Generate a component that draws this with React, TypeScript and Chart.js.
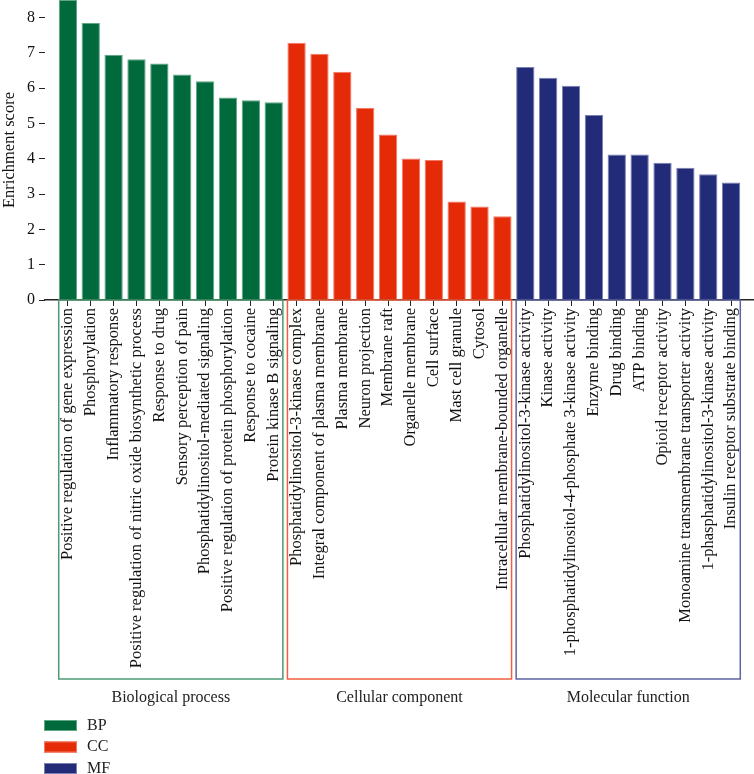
import React, { useEffect, useRef } from "react";
import { Chart, registerables } from "chart.js";

Chart.register(...registerables);

const bpLabels = [
  "Positive regulation of gene expression",
  "Phosphorylation",
  "Inflammatory response",
  "Positive regulation of nitric oxide biosynthetic process",
  "Response to drug",
  "Sensory perception of pain",
  "Phosphatidylinositol-mediated signaling",
  "Positive regulation of protein phosphorylation",
  "Response to cocaine",
  "Protein kinase B signaling",
];
const bpValues = [8.5, 7.85, 6.95, 6.82, 6.7, 6.39, 6.2, 5.74, 5.66, 5.6];

const ccLabels = [
  "Phosphatidylinositol-3-kinase complex",
  "Integral component of plasma membrane",
  "Plasma membrane",
  "Neuron projection",
  "Membrane raft",
  "Organelle membrane",
  "Cell surface",
  "Mast cell granule",
  "Cytosol",
  "Intracellular membrane-bounded organelle",
];
const ccValues = [7.29, 6.98, 6.47, 5.44, 4.69, 4.01, 3.97, 2.79, 2.65, 2.37];

const mfLabels = [
  "Phosphatidylinositol-3-kinase activity",
  "Kinase activity",
  "1-phosphatidylinositol-4-phosphate 3-kinase activity",
  "Enzyme binding",
  "Drug binding",
  "ATP binding",
  "Opioid receptor activity",
  "Monoamine transmembrane transporter activity",
  "1-phasphatidylinositol-3-kinase activity",
  "Insulin receptor substrate binding",
];
const mfValues = [6.6, 6.3, 6.07, 5.24, 4.12, 4.12, 3.89, 3.75, 3.56, 3.33];

const groupNames = ["Biological process", "Cellular component", "Molecular function"];
const legendNames = ["BP", "CC", "MF"];

const FONT = '"Liberation Serif", "DejaVu Serif", serif';
const fills = ["#006a3d", "#e52a08", "#212b78"];
const strokes = ["#5fa883", "#f27a63", "#7b80b2"];
const boxColors = ["#4c9a74", "#f0603f", "#5d64a3"];

export default function App() {
  const ref = useRef<HTMLCanvasElement | null>(null);

  useEffect(() => {
    if (!ref.current) return;
    const groups = [bpValues, ccValues, mfValues];
    const groupLabels = [bpLabels, ccLabels, mfLabels];
    const labels: string[] = [""];
    const data: (number | null)[] = [null];
    const bg: string[] = ["transparent"];
    const bd: string[] = ["transparent"];
    groups.forEach((vals, g) => {
      vals.forEach((v, i) => {
        labels.push(groupLabels[g][i]);
        data.push(v);
        bg.push(fills[g]);
        bd.push(strokes[g]);
      });
    });
    labels.push("");
    data.push(null);
    bg.push("transparent");
    bd.push("transparent");

    const decor = {
      id: "decor",
      afterDraw(chart: any) {
        const ctx = chart.ctx;
        const meta = chart.getDatasetMeta(0);
        const area = chart.chartArea;
        ctx.save();
        let offset = 1;
        groups.forEach((vals, g) => {
          const first: any = meta.data[offset];
          const last: any = meta.data[offset + vals.length - 1];
          const x0 = first.x - first.width / 2;
          const x1 = last.x + last.width / 2;
          const y0 = area.bottom;
          const y1 = 679;
          ctx.strokeStyle = boxColors[g];
          ctx.lineWidth = 1.5;
          ctx.strokeRect(x0, y0, x1 - x0, y1 - y0);
          ctx.fillStyle = "#222";
          ctx.font = `16px ${FONT}`;
          ctx.textAlign = "center";
          ctx.textBaseline = "middle";
          ctx.fillText(groupNames[g], (x0 + x1) / 2, 698);
          offset += vals.length;
        });
        legendNames.forEach((name, i) => {
          const y = 720 + i * 21.5;
          ctx.fillStyle = fills[i];
          ctx.fillRect(44, y, 33, 11);
          ctx.strokeStyle = strokes[i];
          ctx.lineWidth = 1;
          ctx.strokeRect(44.5, y + 0.5, 32, 10);
          ctx.fillStyle = "#222";
          ctx.font = `16px ${FONT}`;
          ctx.textAlign = "left";
          ctx.textBaseline = "middle";
          ctx.fillText(name, 87, y + 5.5);
        });
        ctx.restore();
      },
    };

    const chart = new Chart(ref.current, {
      type: "bar",
      data: {
        labels,
        datasets: [
          {
            data,
            backgroundColor: bg,
            borderColor: bd,
            borderWidth: 1,
            categoryPercentage: 1,
            barPercentage: 0.8,
          },
        ],
      },
      options: {
        responsive: false,
        animation: false,
        layout: { padding: 0 },
        plugins: { legend: { display: false }, tooltip: { enabled: false } },
        scales: {
          x: {
            offset: false,
            grid: {
              offset: false,
              drawOnChartArea: false,
              drawTicks: true,
              tickLength: 6,
              tickColor: (c: any) =>
                c.index === 0 || c.index === labels.length - 1 ? "transparent" : "#222",
            },
            border: { display: true, color: "#222", width: 1.5 },
            ticks: {
              autoSkip: false,
              maxRotation: 90,
              minRotation: 90,
              padding: 2,
              color: "#111",
              font: { family: FONT, size: 16.5 },
            },
            afterFit(scale: any) {
              scale.height = 474;
              scale.paddingLeft = 0;
              scale.paddingRight = 0;
            },
          },
          y: {
            min: 0,
            max: 8.5,
            grid: {
              drawOnChartArea: false,
              drawTicks: true,
              tickLength: 6,
              tickColor: "#222",
            },
            border: { display: false },
            ticks: {
              stepSize: 1,
              includeBounds: false,
              padding: 4,
              color: "#111",
              font: { family: FONT, size: 16 },
            },
            title: {
              display: true,
              text: "Enrichment score",
              color: "#111",
              font: { family: FONT, size: 16.5 },
              padding: { top: 0, bottom: 0 },
            },
            afterFit(scale: any) {
              scale.width = 45;
              scale.paddingTop = 0;
              scale.paddingBottom = 0;
            },
          },
        },
      },
      plugins: [decor],
    });
    return () => chart.destroy();
  }, []);

  return (
    <div style={{ position: "absolute", left: 0, top: 0, width: 754, height: 774, background: "#fff" }}>
      <canvas ref={ref} width={754} height={774} />
    </div>
  );
}
